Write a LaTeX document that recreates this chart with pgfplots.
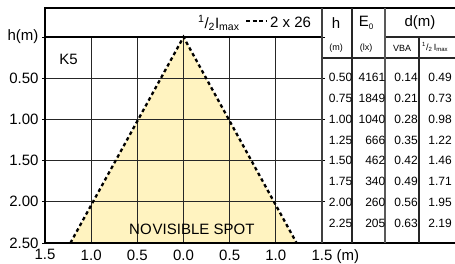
\documentclass[border=0pt]{standalone}
\usepackage{pgfplots}
\pgfplotsset{compat=1.18}
\usepackage{fontspec}
\setmainfont{Liberation Sans}
\definecolor{spotfill}{HTML}{FFF3C0}
\newcommand{\fsz}[1]{\fontsize{#1}{#1}\selectfont}
\begin{document}
\begin{tikzpicture}
\path[use as bounding box] (0pt,0pt) rectangle (455pt,264pt);
\begin{axis}[
  at={(183.5pt,124pt)}, anchor=center,
  width=277pt, height=206pt, scale only axis,
  xmin=-1.5, xmax=1.5, ymin=0, ymax=2.5, y dir=reverse,
  xtick={-1.5,-1,-0.5,0,0.5,1,1.5},
  xticklabels={1.5,1.0,0.5,0.0,0.5,1.0,{1.5\rlap{ (m)}}},
  ytick={0,0.5,1,1.5,2,2.5},
  yticklabels={h(m),0.50,1.00,1.50,2.00,2.50},
  axis line style={draw=none},
  xtick style={draw=none},
  ytick style={black, line width=0.8pt},
  tick align=outside, major tick length=3pt,
  ticklabel style={font=\fsz{15}},
]
\addplot[fill=spotfill, draw=none] coordinates {(-1.225,2.5) (0,0) (1.225,2.5) (-1.225,2.5)};
\end{axis}
\begin{axis}[
  at={(183.5pt,124pt)}, anchor=center,
  width=277pt, height=206pt, scale only axis,
  xmin=-1.5, xmax=1.5, ymin=0, ymax=2.5, y dir=reverse,
  axis lines=none, ticks=none, clip=false,
]
% grid
\addplot[black!85, line width=1.1pt] coordinates {(-1,0) (-1,2.5)};
\addplot[black!85, line width=1.1pt] coordinates {(-0.5,0) (-0.5,2.5)};
\addplot[black!85, line width=1.1pt] coordinates {(0,0) (0,2.5)};
\addplot[black!85, line width=1.1pt] coordinates {(0.5,0) (0.5,2.5)};
\addplot[black!85, line width=1.1pt] coordinates {(1,0) (1,2.5)};
\addplot[black!85, line width=1.1pt] coordinates {(-1.5,0.5) (1.5,0.5)};
\addplot[black!85, line width=1.1pt] coordinates {(-1.5,1) (1.5,1)};
\addplot[black!85, line width=1.1pt] coordinates {(-1.5,1.5) (1.5,1.5)};
\addplot[black!85, line width=1.1pt] coordinates {(-1.5,2) (1.5,2)};
% borders
\addplot[black, line width=1.4pt] coordinates {(-1.5,0) (1.5,0)};
\addplot[black, line width=1.6pt] coordinates {(-1.5,2.5) (2.941,2.5)};
\addplot[black!85, line width=1.1pt] coordinates {(2.182,0) (2.941,0)};
\addplot[black!85, line width=1.1pt] coordinates {(1.5,0.255) (2.941,0.255)};
% spot
\addplot[black, line width=2.3pt, dash pattern=on 3.5pt off 3pt] coordinates {(-1.225,2.5) (0,0) (1.225,2.5)};
\node[font=\fsz{15}] at (axis cs:-1.245,0.267) {K5};
\node[font=\fsz{15}] at (axis cs:0.09,2.33) {NO\hspace{1pt}VISIBLE SPOT};
\end{axis}
\begin{scope}[shift={(0pt,264pt)}, x=1pt, y=-1pt]
  \draw[black, line width=1.5pt] (45,243) -- (45,8) -- (455,8);
  \draw[black!75, line width=1.2pt] (322,8) -- (322,243);
  \node[anchor=west, inner sep=0, font=\fsz{15}] at (198,23) {\textsuperscript{1}/\textsubscript{2}I\textsubscript{max}};
  \draw[black, line width=2.4pt, dash pattern=on 4pt off 2.5pt] (246,21) -- (266,21);
  \node[anchor=west, inner sep=0, font=\fsz{15}] at (270,22) {2 x 26};
  \draw[black!85, line width=1.2pt] (352,8) -- (352,243);
  \draw[black!65, line width=1.2pt] (385,8) -- (385,243);
  \draw[black!85, line width=1.2pt] (419,37) -- (419,243);
  \node[font=\fsz{15}] at (336,23) {h};
  \node[font=\fsz{15}] at (366,23) {E\raisebox{-0.3ex}{\fsz{8}0}};
  \node[font=\fsz{15}] at (420,23) {d(m)};
  \node[font=\fsz{9}] at (336,48) {(m)};
  \node[font=\fsz{9}] at (366,48) {(lx)};
  \node[font=\fsz{9}] at (402,48) {VBA};
  \node[font=\fsz{9}, anchor=west, inner sep=0] at (422,47) {\textsuperscript{1}/\textsubscript{2}\,I\textsubscript{max}};
  \foreach \y/\h/\e/\v/\m in {77/0.50/4161/0.14/0.49, 98/0.75/1849/0.21/0.73, 119/1.00/1040/0.28/0.98, 140/1.25/666/0.35/1.22, 160/1.50/462/0.42/1.46, 181/1.75/340/0.49/1.71, 202/2.00/260/0.56/1.95, 223/2.25/205/0.63/2.19}{
    \node[anchor=east, inner sep=0, font=\fsz{12}] at (352.5,\y) {\h};
    \node[anchor=east, inner sep=0, font=\fsz{12}] at (385.5,\y) {\e};
    \node[anchor=east, inner sep=0, font=\fsz{12}] at (418,\y) {\v};
    \node[anchor=east, inner sep=0, font=\fsz{12}] at (452,\y) {\m};
  }
\end{scope}
\end{tikzpicture}
\end{document}
